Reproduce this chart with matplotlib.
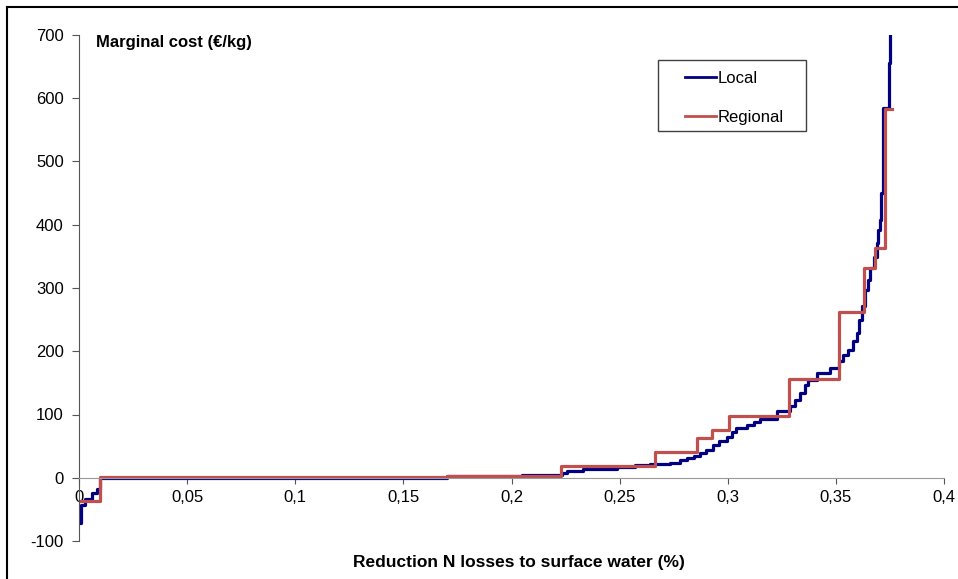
import matplotlib
matplotlib.use('Agg')
import matplotlib.pyplot as plt
from matplotlib.patches import Rectangle
from matplotlib.lines import Line2D
from matplotlib.ticker import FuncFormatter

plt.rcParams['font.family'] = ['Liberation Sans', 'DejaVu Sans']
plt.rcParams['axes.unicode_minus'] = False

# local optimisation: marginal cost steps (x = reduction, y = euro/kg)
local_x = [0, 0.001, 0.003, 0.006, 0.0085, 0.0095, 0.17, 0.195, 0.205, 0.215,
           0.2232, 0.2255, 0.2332, 0.2486, 0.257, 0.264, 0.2733, 0.278, 0.281, 0.2845,
           0.2872, 0.29, 0.2933, 0.296, 0.2995, 0.302, 0.304, 0.3087, 0.312, 0.315,
           0.3226, 0.3288, 0.331, 0.3334, 0.3357, 0.3373, 0.3411, 0.3473, 0.3516, 0.3534,
           0.3557, 0.358, 0.3596, 0.3608, 0.3619, 0.3635, 0.365, 0.366, 0.3675, 0.369,
           0.3697, 0.3703, 0.371, 0.3717, 0.3745, 0.375, 0.3751]
local_y = [-71, -43, -33, -24, -18, 0, 2, 3, 4, 5,
           7, 10, 14, 17, 20, 22, 24, 28, 31, 35,
           39, 44, 52, 58, 65, 72, 78, 84, 88, 93,
           105, 114, 123, 134, 147, 155, 166, 173, 184, 194,
           202, 216, 229, 250, 271, 297, 313, 332, 349, 371,
           392, 408, 450, 585, 655, 700, 700]

# regional optimisation
regional_x = [0, 0.0095, 0.17, 0.2229, 0.2664, 0.2856, 0.2929, 0.3007, 0.3283,
              0.3516, 0.3631, 0.3681, 0.3729, 0.376]
regional_y = [-37, 1, 3, 18, 41, 63, 76, 97, 156,
              262, 332, 364, 583, 583]

xticks = [0, 0.05, 0.1, 0.15, 0.2, 0.25, 0.3, 0.35, 0.4]
yticks = [-100, 0, 100, 200, 300, 400, 500, 600, 700]

W, H = 958, 579
fig = plt.figure(figsize=(W/100, H/100), dpi=100)
ax = fig.add_axes([79/W, 1-541/H, 865/W, 506/H])

ax.step(local_x, local_y, where='post', color='#000080', lw=2.3, label='Local')
ax.step(regional_x, regional_y, where='post', color='#C0504D', lw=2.3, label='Regional')

ax.set_xlim(0, 0.4)
ax.set_ylim(-100, 700)
ax.set_xticks(xticks)
ax.set_yticks(yticks)
ax.xaxis.set_major_formatter(FuncFormatter(lambda v, p: ('%g' % round(v, 3)).replace('.', ',')))

ax.spines['top'].set_visible(False)
ax.spines['right'].set_visible(False)
ax.spines['bottom'].set_position(('data', 0))
ax.spines['bottom'].set_color('#999999')
ax.spines['left'].set_color('#555555')
ax.tick_params(axis='both', direction='out', length=5, labelsize=12, colors='black')
ax.tick_params(axis='x', color='#555555', length=4, pad=5)
ax.tick_params(axis='y', color='#555555', pad=6)

fig.text(96/W, 1-42/H, 'Marginal cost (€/kg)', fontsize=12, fontweight='bold',
         va='center', ha='left')
fig.text(519/W, 1-562/H, 'Reduction N losses to surface water (%)',
         fontsize=12.5, fontweight='bold', ha='center', va='center')

# legend: entries without frame, box drawn separately
leg = ax.legend(loc='upper left', bbox_to_anchor=(685/W, 1-71/H),
                bbox_transform=fig.transFigure, fontsize=12, frameon=False,
                handlelength=1.86, handletextpad=0.1, borderpad=0,
                labelspacing=1.45, borderaxespad=0)
for h in leg.get_lines():
    h.set_linewidth(2.0)
fig.patches.append(Rectangle((658/W, 1-131/H), 148/W, 71/H, transform=fig.transFigure,
                             fill=False, edgecolor='#404040', lw=1.0))

# screenshot frame (top and left only)
fig.lines.append(Line2D([7/W, 1], [1-7/H, 1-7/H], transform=fig.transFigure, color='black', lw=1.5))
fig.lines.append(Line2D([7/W, 7/W], [0, 1-7/H], transform=fig.transFigure, color='black', lw=1.5))

fig.savefig('out.png', dpi=100)
